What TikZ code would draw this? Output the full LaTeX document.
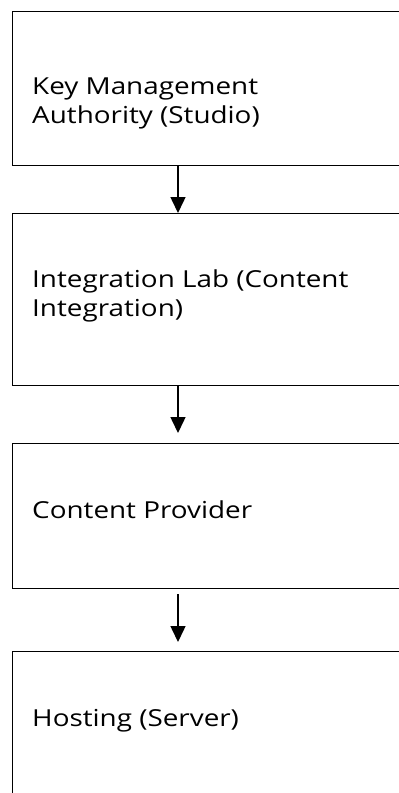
\documentclass[tikz,border=0pt]{standalone}
\usepackage{fontspec}
\setmainfont{Open Sans}
\usetikzlibrary{arrows.meta}
\newcommand{\wide}[1]{\scalebox{1.19}[1]{#1}}
\begin{document}
\begin{tikzpicture}[x=1pt,y=1pt,
  box/.style={draw=black,line width=1.2pt,rectangle,anchor=north west,inner sep=0pt,minimum width=420pt},
  lbl/.style={anchor=base west,inner sep=0pt,font=\fontsize{23.4}{29}\selectfont},
  arr/.style={line width=1.5pt,-{Triangle[width=15pt,length=16pt]}}]
\clip (0,0) rectangle (399,-793);
\fill[white] (0,0) rectangle (399,-793);
\coordinate (ax) at (178,0);
\node[box,minimum height=154pt] (b1) at (12,-11) {};
\node[box,minimum height=172pt] (b2) at (12,-213) {};
\node[box,minimum height=145pt] (b3) at (12,-443) {};
\node[box,minimum height=200pt] (b4) at (12,-651) {};
\node[lbl] (t1a) at (32,-94) {\wide{Key Management}};
\node[lbl] (t1b) at (32,-123) {\wide{Authority (Studio)}};
\node[lbl] (t2a) at (32,-287) {\wide{Integration Lab (Content}};
\node[lbl] (t2b) at (32,-316) {\wide{Integration)}};
\node[lbl] (t3) at (32,-518) {\wide{Content Provider}};
\node[lbl] (t4) at (32,-726) {\wide{Hosting (Server)}};
\draw[arr] (b1.south west -| ax) -- (b2.north west -| ax);
\draw[arr,shorten >=10pt] (b2.south west -| ax) -- (b3.north west -| ax);
\draw[arr,shorten <=5pt,shorten >=9pt] (b3.south west -| ax) -- (b4.north west -| ax);
\end{tikzpicture}
\end{document}
